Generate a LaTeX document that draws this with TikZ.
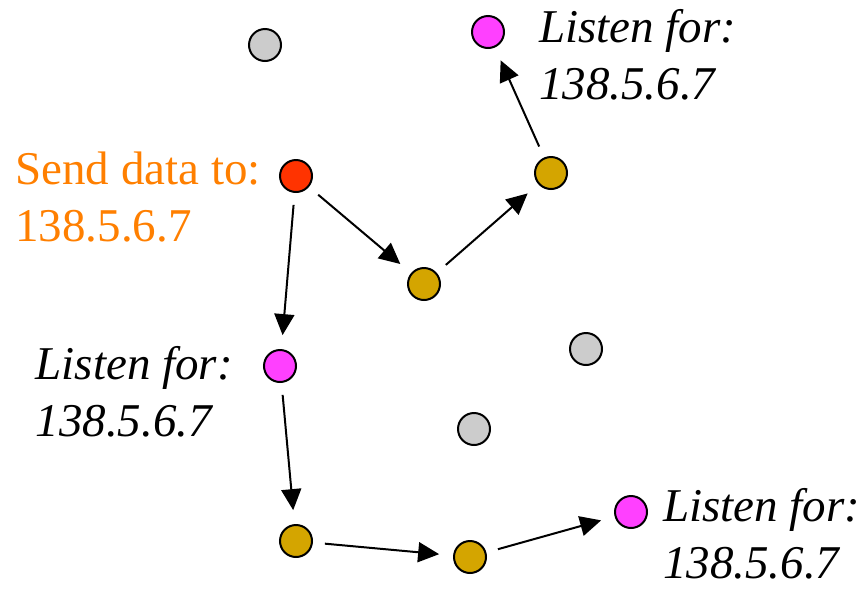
\documentclass[tikz,border=0pt]{standalone}
\usepackage{fontspec}
\setmainfont{Liberation Serif}
\usetikzlibrary{positioning,arrows.meta}
\definecolor{hostred}{HTML}{FF3300}
\definecolor{hostpink}{HTML}{FF40FF}
\definecolor{hostgold}{HTML}{D4A500}
\definecolor{hostgray}{HTML}{CCCCCC}
\definecolor{sendorange}{HTML}{FF7F00}

\begin{document}
\begin{tikzpicture}[x=1pt, y=-1pt,
    host/.style={circle, draw=black, line width=2pt, minimum size=32pt, inner sep=0pt},
    hop/.style={line width=2pt, -{Triangle[length=21pt,width=20pt]}, shorten <=12pt, shorten >=14pt},
    caption/.style={inner sep=0pt, align=left, font=\fontsize{47}{57}\selectfont},
    listen/.style={caption, font=\itshape\fontsize{47}{57}\selectfont}]
    \useasboundingbox (0,0) rectangle (867,590);

    % idle hosts
    \node (idle1) [host, fill=hostgray] at (265,45) {};
    \node (idle2) [host, fill=hostgray] at (586,349) {};
    \node (idle3) [host, fill=hostgray] at (474,429) {};

    % sender, routers and listeners
    \node (sender) [host, fill=hostred] at (296,176) {};
    \node (router1) [host, fill=hostgold] at (424,284) {};
    \node (router2) [host, fill=hostgold] at (551,173) {};
    \node (router3) [host, fill=hostgold] at (296,541) {};
    \node (router4) [host, fill=hostgold] at (470,557) {};
    \node (member1) [host, fill=hostpink] at (488,32) {};
    \node (member2) [host, fill=hostpink] at (280,366) {};
    \node (member3) [host, fill=hostpink] at (631,512) {};

    \node (sendtext) [caption, text=sendorange, left=18pt of sender, yshift=-21pt] {Send data to:\\138.5.6.7};
    \node (listen1) [listen, right=34pt of member1, yshift=-23pt] {Listen for:\\138.5.6.7};
    \node (listen2) [listen, left=30pt of member2, yshift=-26pt] {Listen for:\\138.5.6.7};
    \node (listen3) [listen, right=15pt of member3, yshift=-22pt] {Listen for:\\138.5.6.7};

    \draw[hop] (sender) -- (router1);
    \draw[hop] (router1) -- (router2);
    \draw[hop] (router2) -- (member1);
    \draw[hop] (sender) -- (member2);
    \draw[hop] (member2) -- (router3);
    \draw[hop] (router3) -- (router4);
    \draw[hop] (router4) -- (member3);
\end{tikzpicture}
\end{document}
